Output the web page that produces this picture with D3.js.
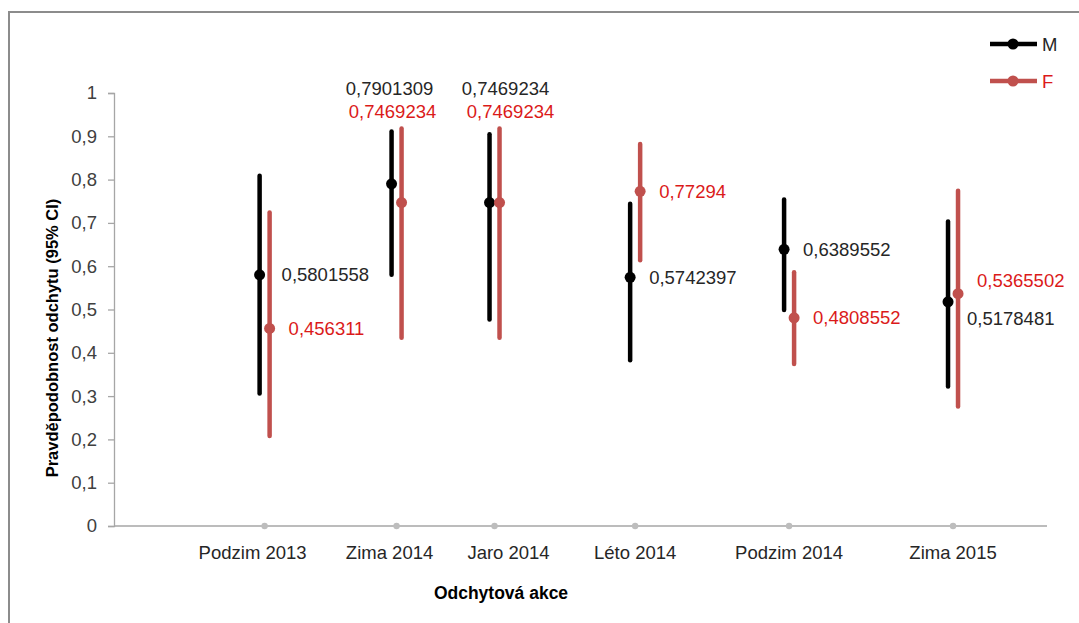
<!DOCTYPE html>
<html>
<head>
<meta charset="utf-8">
<script src="https://cdn.jsdelivr.net/npm/d3@7/dist/d3.min.js"></script>
<style>
  html, body { margin: 0; padding: 0; background: #fff; }
  svg { display: block; font-family: Arial, "Liberation Sans", sans-serif; }
</style>
</head>
<body>
<svg id="chart" width="1079" height="623"></svg>
<script>
// Capture campaigns and their position on the time axis
const categories = ["Podzim 2013", "Zima 2014", "Jaro 2014", "Léto 2014", "Podzim 2014", "Zima 2015"];
const categoryX = [1.13, 2.12, 2.855, 3.91, 5.065, 6.295];

// Capture probability with 95% CI, males
const maleValue = [0.5801558, 0.7901309, 0.7469234, 0.5742397, 0.6389552, 0.5178481];
const maleLow   = [0.306, 0.580, 0.477, 0.383, 0.499, 0.322];
const maleHigh  = [0.809, 0.911, 0.905, 0.744, 0.754, 0.703];

// Capture probability with 95% CI, females
const femaleValue = [0.456311, 0.7469234, 0.7469234, 0.77294, 0.4808552, 0.5365502];
const femaleLow   = [0.208, 0.435, 0.435, 0.614, 0.374, 0.276];
const femaleHigh  = [0.724, 0.918, 0.918, 0.882, 0.586, 0.774];

const yTicks = [0, 0.1, 0.2, 0.3, 0.4, 0.5, 0.6, 0.7, 0.8, 0.9, 1];

const series = [
  { name: "M", value: maleValue, low: maleLow, high: maleHigh, color: "#000000", text: "#262626", dodge: -5 },
  { name: "F", value: femaleValue, low: femaleLow, high: femaleHigh, color: "#C0504D", text: "#DB1A1A", dodge: 5 }
];

// Label layout: "above" labels sit in rows over the plot, the rest to the right of the point
const labelPlacement = {
  "M": { 1: { mode: "above", row: 0, dx: -7 }, 2: { mode: "above", row: 0, dx: 11 }, 0: { dx: 3 }, 5: { dy: 17 } },
  "F": { 1: { mode: "above", row: 1, dx: -4 }, 2: { mode: "above", row: 1, dx: 16 }, 5: { dy: -13 } }
};
const categoryLabelNudge = [-12, -7, 14, 0, 0, 0];

const svg = d3.select("#chart");
const plotLeft = 114, plotRight = 1047, plotTop = 93, plotBottom = 526;

const x = d3.scaleLinear().domain([0, 7]).range([plotLeft, plotRight]);
const y = d3.scaleLinear().domain([0, 1]).range([plotBottom, plotTop]);

const locale = d3.formatLocale({ decimal: ",", thousands: " ", grouping: [3], currency: ["", " Kč"] });
const tickFmt = locale.format(".1~f");
const valueFmt = v => String(v).replace(".", ",");

// Outer chart frame
svg.append("rect")
  .attr("x", 9).attr("y", 12).attr("width", 1100).attr("height", 640)
  .attr("fill", "none").attr("stroke", "#8C8C8C").attr("stroke-width", 2);

// Y axis
const yAxis = svg.append("g")
  .attr("transform", `translate(${plotLeft},0)`)
  .call(d3.axisLeft(y).tickValues(yTicks).tickFormat(tickFmt).tickSize(6).tickPadding(11));
yAxis.select(".domain").attr("stroke", "#A6A6A6").attr("stroke-width", 1.3);
yAxis.selectAll(".tick line").attr("stroke", "#A6A6A6").attr("stroke-width", 1.3);
yAxis.selectAll(".tick text")
  .attr("font-size", 18.5).attr("fill", "#404040")
  .attr("font-family", "Arial, 'Liberation Sans', sans-serif");

// X axis line
svg.append("line")
  .attr("x1", plotLeft).attr("x2", plotRight).attr("y1", y(0)).attr("y2", y(0))
  .attr("stroke", "#A6A6A6").attr("stroke-width", 1.5);

// Campaign markers on the axis
svg.selectAll(".axis-dot")
  .data(categoryX)
  .join("circle")
  .attr("class", "axis-dot")
  .attr("cx", d => x(d)).attr("cy", y(0)).attr("r", 3.2)
  .attr("fill", "#BDBDBD");

// Campaign labels
svg.selectAll(".cat-label")
  .data(categories)
  .join("text")
  .attr("class", "cat-label")
  .attr("x", (d, i) => x(categoryX[i]) + categoryLabelNudge[i])
  .attr("y", 552)
  .attr("text-anchor", "middle")
  .attr("dominant-baseline", "central")
  .attr("font-size", 18.5)
  .attr("fill", "#262626")
  .text(d => d);

// Axis titles
svg.append("text")
  .attr("x", 501).attr("y", 593)
  .attr("text-anchor", "middle").attr("dominant-baseline", "central")
  .attr("font-size", 17.5).attr("font-weight", "bold").attr("fill", "#000")
  .text("Odchytová akce");

svg.append("text")
  .attr("transform", "translate(52,338) rotate(-90)")
  .attr("text-anchor", "middle").attr("dominant-baseline", "central")
  .attr("font-size", 16.5).attr("font-weight", "bold").attr("fill", "#000")
  .text("Pravděpodobnost odchytu (95% CI)");

// Error bars, points and value labels
series.forEach(s => {
  const g = svg.append("g").attr("class", "series-" + s.name);
  const idx = d3.range(categories.length);
  const px = i => x(categoryX[i]) + s.dodge;
  const place = i => (labelPlacement[s.name] || {})[i] || {};

  g.selectAll(".ci")
    .data(idx)
    .join("line")
    .attr("x1", px).attr("x2", px)
    .attr("y1", i => y(s.low[i])).attr("y2", i => y(s.high[i]))
    .attr("stroke", s.color).attr("stroke-width", 4.5).attr("stroke-linecap", "round");

  g.selectAll(".pt")
    .data(idx)
    .join("circle")
    .attr("cx", px).attr("cy", i => y(s.value[i])).attr("r", 5.5)
    .attr("fill", s.color);

  g.selectAll(".val")
    .data(idx)
    .join("text")
    .attr("x", i => {
      const p = place(i);
      return p.mode === "above" ? x(categoryX[i]) + (p.dx || 0) : px(i) + 19 + (p.dx || 0);
    })
    .attr("y", i => {
      const p = place(i);
      return p.mode === "above" ? y(1) - 5 + p.row * 23.5 : y(s.value[i]) + (p.dy || 0);
    })
    .attr("text-anchor", i => place(i).mode === "above" ? "middle" : "start")
    .attr("dominant-baseline", "central")
    .attr("font-size", 18.5)
    .attr("fill", s.text)
    .text(i => valueFmt(s.value[i]));
});

// Legend
const legend = svg.append("g").attr("class", "legend");
series.forEach((s, k) => {
  const ly = 44 + k * 37;
  legend.append("line")
    .attr("x1", 990).attr("x2", 1037).attr("y1", ly).attr("y2", ly)
    .attr("stroke", s.color).attr("stroke-width", 4.5);
  legend.append("circle")
    .attr("cx", 1013).attr("cy", ly).attr("r", 5.5).attr("fill", s.color);
  legend.append("text")
    .attr("x", 1042).attr("y", ly)
    .attr("dominant-baseline", "central")
    .attr("font-size", 18.5)
    .attr("fill", s.text)
    .text(s.name);
});
</script>
</body>
</html>
